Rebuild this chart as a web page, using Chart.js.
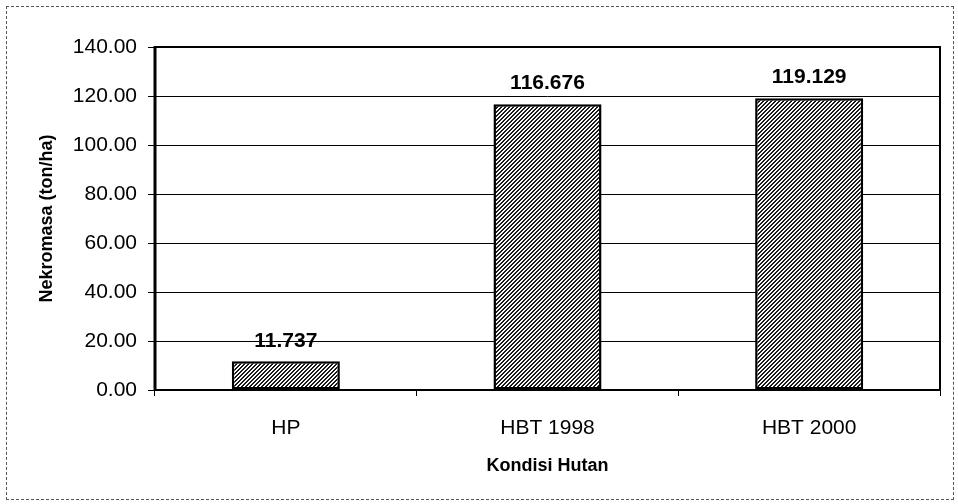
<!DOCTYPE html>
<html>
<head>
<meta charset="utf-8">
<script src="https://cdn.jsdelivr.net/npm/chart.js@4.4.1/dist/chart.umd.min.js"></script>
<style>
  html, body { margin: 0; padding: 0; background: #fff; }
  #wrap { position: relative; width: 958px; height: 504px; }
  #frame {
    position: absolute; left: 6px; top: 6px; width: 948px; height: 494px;
    border: 1px dashed #555; box-sizing: border-box; pointer-events: none;
  }
</style>
</head>
<body>
<div id="wrap">
  <canvas id="chart" width="958" height="504"></canvas>
  <div id="frame"></div>
</div>
<script>
// data
const categories = ["HP", "HBT 1998", "HBT 2000"];
const nekromasa = [11.737, 116.676, 119.129];
const yTicks = [0, 20, 40, 60, 80, 100, 120, 140];

const FONT = "'Liberation Sans', Arial, sans-serif";

// crisp "/" hatch: 2px dark, 2px light on a 4px tile
function makeHatch() {
    const s = 4;
    const c = document.createElement('canvas');
    c.width = s; c.height = s;
    const g = c.getContext('2d');
    const img = g.createImageData(s, s);
    for (let y = 0; y < s; y++) {
        for (let x = 0; x < s; x++) {
            const k = (x + y) % s;
            const dark = k === 0 || k === 3;
            const v = dark ? 25 : 250;
            const i = (y * s + x) * 4;
            img.data[i] = v; img.data[i + 1] = v; img.data[i + 2] = v; img.data[i + 3] = 255;
        }
    }
    g.putImageData(img, 0, 0);
    return g.createPattern(c, 'repeat');
}

// value labels above bars
const valueLabels = {
    id: 'valueLabels',
    afterDatasetsDraw(chart) {
        const ctx = chart.ctx;
        const meta = chart.getDatasetMeta(0);
        ctx.save();
        ctx.font = "bold 21px " + FONT;
        ctx.fillStyle = '#000';
        ctx.textAlign = 'center';
        ctx.textBaseline = 'bottom';
        meta.data.forEach((bar, i) => {
            ctx.fillText(nekromasa[i].toFixed(3), bar.x, bar.y - 10);
        });
        ctx.restore();
    }
};

// plot box outline
const plotBox = {
    id: 'plotBox',
    afterDraw(chart) {
        const a = chart.chartArea;
        const ctx = chart.ctx;
        ctx.save();
        ctx.strokeStyle = '#000';
        ctx.lineWidth = 2;
        ctx.strokeRect(a.left, a.top, a.right - a.left, a.bottom - a.top);
        ctx.lineWidth = 3;
        ctx.beginPath();
        ctx.moveTo(a.left, a.top - 1);
        ctx.lineTo(a.left, a.bottom + 1);
        ctx.stroke();
        ctx.restore();
    }
};

const ctx = document.getElementById('chart').getContext('2d');
new Chart(ctx, {
    type: 'bar',
    data: {
        labels: categories,
        datasets: [{
            data: nekromasa,
            backgroundColor: makeHatch(),
            borderColor: '#000',
            borderWidth: 2.5,
            borderSkipped: false,
            categoryPercentage: 1,
            barPercentage: 0.413
        }]
    },
    options: {
        responsive: false,
        animation: false,
        devicePixelRatio: 1,
        layout: { padding: { left: 0, top: 47, right: 18, bottom: 0 } },
        plugins: {
            legend: { display: false },
            tooltip: { enabled: false }
        },
        scales: {
            y: {
                min: 0,
                max: 140,
                afterBuildTicks: axis => { axis.ticks = yTicks.map(v => ({ value: v })); },
                afterFit: axis => { axis.width = 155; },
                ticks: {
                    color: '#000',
                    padding: 11,
                    font: { family: FONT, size: 21 },
                    callback: v => Number(v).toFixed(2)
                },
                grid: { color: '#000', lineWidth: 1, tickLength: 7 },
                border: { display: false },
                title: {
                    display: true,
                    text: 'Nekromasa (ton/ha)',
                    color: '#000',
                    font: { family: FONT, size: 18, weight: 'bold' },
                    padding: { top: 36, bottom: 0 }
                }
            },
            x: {
                afterFit: axis => { axis.height = 114; },
                ticks: {
                    color: '#000',
                    padding: 20,
                    font: { family: FONT, size: 21 }
                },
                grid: { color: '#000', lineWidth: 1, drawOnChartArea: false, tickLength: 6 },
                border: { display: false },
                title: {
                    display: true,
                    text: 'Kondisi Hutan',
                    color: '#000',
                    font: { family: FONT, size: 18, weight: 'bold' },
                    padding: { top: 0, bottom: 27 }
                }
            }
        }
    },
    plugins: [valueLabels, plotBox]
});
</script>
</body>
</html>
